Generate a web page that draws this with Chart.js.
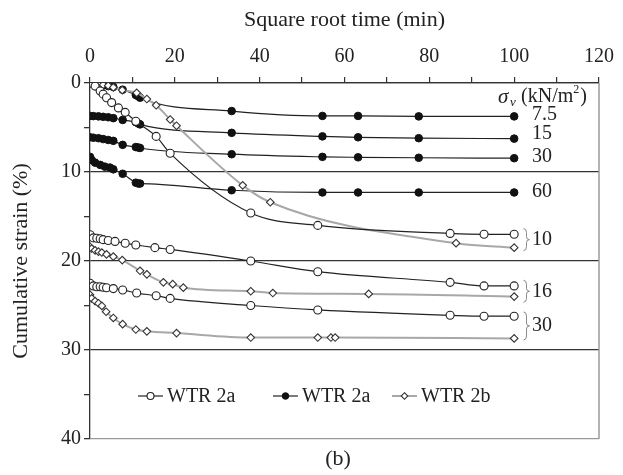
<!DOCTYPE html>
<html>
<head>
<meta charset="utf-8">
<script src="https://cdn.jsdelivr.net/npm/chart.js@4"></script>
<style>
  body { margin: 0; background: #fff; }
</style>
</head>
<body>
<canvas id="strainChart" width="623" height="475"></canvas>
<script>
// WTR 2a, filled circles (7.5, 15, 30, 60 kN/m2)
const s75X = [0, 1, 2, 3.1, 4.3, 5.5, 7.7, 10.8, 11.4, 11.8, 33.4, 54.8, 63.2, 77.5, 100];
const s75Y = [0, 0.1, 0.15, 0.25, 0.35, 0.45, 0.75, 1.35, 1.5, 1.65, 3.15, 3.7, 3.7, 3.75, 3.75];
const s15X = [0, 0.8, 2.0, 3.1, 4.3, 5.5, 7.7, 10.8, 11.4, 11.8, 33.4, 54.8, 63.2, 77.5, 100];
const s15Y = [3.7, 3.72, 3.75, 3.8, 3.85, 3.95, 4.15, 4.4, 4.55, 4.65, 5.6, 6.0, 6.1, 6.2, 6.25];
const s30X = [0, 0.8, 2.0, 3.1, 4.3, 5.5, 7.7, 10.8, 11.4, 11.8, 33.4, 54.8, 63.2, 77.5, 100];
const s30Y = [6.1, 6.15, 6.2, 6.3, 6.4, 6.5, 6.95, 7.2, 7.25, 7.3, 8.0, 8.3, 8.35, 8.4, 8.45];
const s60X = [0, 0.4, 1.2, 2.4, 3.5, 4.7, 5.5, 7.7, 10.8, 11.4, 11.8, 33.4, 54.8, 63.2, 77.5, 100];
const s60Y = [8.3, 8.65, 8.95, 9.2, 9.4, 9.5, 9.7, 10.2, 11.2, 11.3, 11.3, 12.05, 12.3, 12.3, 12.3, 12.3];

// WTR 2a, open circles (10, 16, 30 kN/m2)
const c10X = [0, 1.2, 2.4, 3.1, 3.9, 5.1, 6.7, 8.3, 10.8, 15.6, 18.9, 37.9, 53.7, 84.9, 92.9, 100];
const c10Y = [0, 0.35, 0.9, 1.25, 1.65, 2.2, 2.8, 3.3, 4.3, 6.0, 7.9, 14.6, 16.0, 16.9, 17.0, 17.0];
const c16X = [0, 0.8, 1.6, 2.4, 3.1, 4.3, 5.9, 8.3, 10.8, 15.3, 18.9, 37.9, 53.7, 84.9, 92.9, 100];
const c16Y = [17.05, 17.4, 17.45, 17.5, 17.6, 17.7, 17.8, 18.0, 18.2, 18.5, 18.7, 20.0, 21.2, 22.4, 22.8, 22.8];
const c30X = [0, 0.8, 1.6, 2.4, 3.1, 3.9, 5.5, 7.7, 11.0, 15.6, 18.9, 37.9, 53.7, 84.9, 92.9, 100];
const c30Y = [22.5, 22.8, 22.9, 22.9, 22.95, 23.0, 23.1, 23.25, 23.6, 23.9, 24.2, 25.0, 25.5, 26.1, 26.2, 26.2];

// WTR 2b, diamonds (10, 16, 30 kN/m2)
const d10X = [0, 0.8, 1.6, 2.4, 3.1, 4.3, 5.5, 7.6, 11.0, 13.4, 15.6, 18.9, 20.4, 36.0, 42.5, 86.3, 100];
const d10Y = [0, 0.05, 0.05, 0.1, 0.2, 0.3, 0.5, 0.8, 1.1, 1.8, 2.5, 4.1, 4.8, 11.5, 13.4, 18.0, 18.5];
const d16X = [0, 0.4, 1.2, 2.0, 2.8, 3.9, 5.5, 7.6, 11.8, 13.4, 17.3, 19.5, 22.0, 37.9, 43.1, 65.7, 100];
const d16Y = [18.4, 18.6, 18.8, 18.95, 19.05, 19.25, 19.5, 19.9, 21.1, 21.5, 22.4, 22.6, 23.0, 23.4, 23.6, 23.7, 24.0];
const d30X = [0, 0.4, 1.2, 2.0, 2.8, 3.8, 5.5, 7.7, 10.8, 13.4, 20.4, 37.9, 53.7, 56.8, 57.8, 100];
const d30Y = [23.8, 24.2, 24.5, 24.75, 25.05, 25.7, 26.4, 27.1, 27.7, 27.9, 28.1, 28.6, 28.6, 28.6, 28.6, 28.7];

const legendLabels = ['WTR 2a', 'WTR 2a', 'WTR 2b'];
const filledLabels = ['7.5', '15', '30', '60'];
const filledLabelY = [3.6, 5.7, 8.3, 12.2];
const bracedLabels = ['10', '16', '30'];
const bracedLabelY = [17.6, 23.4, 27.3];

const SERIF = '"Liberation Serif", "Times New Roman", Times, "DejaVu Serif", serif';

const pts = (xs, ys) => xs.map((x, i) => ({ x: x, y: ys[i] }));

const filledStyle = {
    borderColor: '#222', backgroundColor: '#111', borderWidth: 1.2,
    pointStyle: 'circle', pointRadius: 3.8, pointBorderWidth: 1,
    pointBackgroundColor: '#111', pointBorderColor: '#111'
};
const openStyle = {
    borderColor: '#222', backgroundColor: '#fff', borderWidth: 1.2,
    pointStyle: 'circle', pointRadius: 4, pointBorderWidth: 1.1,
    pointBackgroundColor: '#fff', pointBorderColor: '#222'
};
const diamondStyle = {
    borderColor: '#a8a8a8', backgroundColor: '#fff', borderWidth: 2,
    pointStyle: 'rectRot', pointRadius: 3.8, pointBorderWidth: 1.1,
    pointBackgroundColor: '#fff', pointBorderColor: '#333'
};

function series(label, xs, ys, style) {
    return Object.assign({ label: label, data: pts(xs, ys), showLine: true,
        cubicInterpolationMode: 'monotone' }, style);
}

// text and braces at the right, legend inside the plot, "(b)" under it
const extrasPlugin = {
    id: 'extras',
    afterDraw(chart) {
        const ctx = chart.ctx;
        const xs = chart.scales.x, ys = chart.scales.y;
        const area = chart.chartArea;
        ctx.save();
        // right border
        ctx.strokeStyle = '#9a9a9a';
        ctx.lineWidth = 1.5;
        ctx.beginPath();
        ctx.moveTo(area.right, area.top);
        ctx.lineTo(area.right, area.bottom);
        ctx.stroke();

        ctx.fillStyle = '#222';
        ctx.textBaseline = 'middle';
        ctx.textAlign = 'left';
        // sigma_v header
        const hx = xs.getPixelForValue(96.2), hy = ys.getPixelForValue(1.6);
        ctx.font = 'italic 21px ' + SERIF;
        ctx.fillText('\u03C3', hx, hy);
        ctx.font = 'italic 13px ' + SERIF;
        ctx.fillText('v', hx + 12, hy + 5);
        ctx.font = '20px ' + SERIF;
        ctx.fillText('(kN/m', hx + 23, hy);
        const w = ctx.measureText('(kN/m').width;
        ctx.font = '12px ' + SERIF;
        ctx.fillText('2', hx + 23 + w, hy - 7);
        ctx.font = '20px ' + SERIF;
        ctx.fillText(')', hx + 23 + w + 7, hy);

        filledLabels.forEach((t, i) => {
            ctx.fillText(t, xs.getPixelForValue(104.2), ys.getPixelForValue(filledLabelY[i]));
        });
        bracedLabels.forEach((t, i) => {
            const cy = ys.getPixelForValue(bracedLabelY[i]);
            const half = i === 2 ? 14 : 11;
            const bx = xs.getPixelForValue(102.2);
            ctx.strokeStyle = '#888';
            ctx.lineWidth = 1;
            ctx.beginPath();
            ctx.moveTo(bx, cy - half);
            ctx.quadraticCurveTo(bx + 3, cy - half, bx + 3, cy - half + 4);
            ctx.lineTo(bx + 3, cy - 3);
            ctx.quadraticCurveTo(bx + 3, cy, bx + 6, cy);
            ctx.quadraticCurveTo(bx + 3, cy, bx + 3, cy + 3);
            ctx.lineTo(bx + 3, cy + half - 4);
            ctx.quadraticCurveTo(bx + 3, cy + half, bx, cy + half);
            ctx.stroke();
            ctx.fillText(t, xs.getPixelForValue(104.2), cy);
        });

        // legend
        const ly = 396;
        const items = [
            { x: 138, style: openStyle },
            { x: 273, style: filledStyle },
            { x: 392, style: diamondStyle }
        ];
        items.forEach((it, i) => {
            const s = it.style;
            const r = s.pointRadius - 0.5;
            ctx.strokeStyle = s.borderColor;
            ctx.lineWidth = s.borderWidth;
            ctx.beginPath();
            ctx.moveTo(it.x, ly);
            ctx.lineTo(it.x + 25, ly);
            ctx.stroke();
            ctx.fillStyle = s.pointBackgroundColor;
            ctx.strokeStyle = s.pointBorderColor;
            ctx.lineWidth = s.pointBorderWidth;
            ctx.beginPath();
            if (s.pointStyle === 'rectRot') {
                ctx.moveTo(it.x + 12.5, ly - r);
                ctx.lineTo(it.x + 12.5 + r, ly);
                ctx.lineTo(it.x + 12.5, ly + r);
                ctx.lineTo(it.x + 12.5 - r, ly);
                ctx.closePath();
            } else {
                ctx.arc(it.x + 12.5, ly, r, 0, Math.PI * 2);
            }
            ctx.fill();
            ctx.stroke();
            ctx.fillStyle = '#222';
            ctx.font = '20px ' + SERIF;
            ctx.fillText(legendLabels[i], it.x + 29, ly + 1);
        });

        // panel label
        ctx.textAlign = 'center';
        ctx.font = '22px ' + SERIF;
        ctx.fillText('(b)', 338, 459);
        ctx.restore();
    }
};

Chart.defaults.font.family = SERIF;
Chart.defaults.color = '#222';

new Chart(document.getElementById('strainChart'), {
    type: 'scatter',
    data: {
        datasets: [
            series('WTR 2a 10', c10X, c10Y, openStyle),
            series('WTR 2a 16', c16X, c16Y, openStyle),
            series('WTR 2a 30', c30X, c30Y, openStyle),
            series('WTR 2b 10', d10X, d10Y, diamondStyle),
            series('WTR 2b 16', d16X, d16Y, diamondStyle),
            series('WTR 2b 30', d30X, d30Y, diamondStyle),
            series('WTR 2a 7.5', s75X, s75Y, filledStyle),
            series('WTR 2a 15', s15X, s15Y, filledStyle),
            series('WTR 2a 30 ', s30X, s30Y, filledStyle),
            series('WTR 2a 60', s60X, s60Y, filledStyle)
        ]
    },
    options: {
        responsive: false,
        animation: false,
        layout: { padding: { left: 0, top: 0, right: 24, bottom: 36 } },
        plugins: {
            legend: { display: false },
            tooltip: { enabled: false }
        },
        scales: {
            x: {
                type: 'linear',
                position: 'top',
                min: 0,
                max: 120,
                afterFit: s => { s.height = 83; },
                ticks: {
                    stepSize: 10,
                    padding: 8,
                    font: { size: 20 },
                    callback: v => (v % 20 === 0 ? v : '')
                },
                grid: { drawOnChartArea: false, tickLength: 6, color: '#333', lineWidth: 1.2 },
                border: { color: '#333', width: 1.3 },
                title: {
                    display: true,
                    text: 'Square root time (min)',
                    font: { size: 22 },
                    padding: { top: 7, bottom: 0 }
                }
            },
            y: {
                type: 'linear',
                reverse: true,
                min: 0,
                max: 40,
                afterFit: s => { s.width = 90; },
                ticks: {
                    stepSize: 5,
                    padding: 3,
                    font: { size: 20 },
                    callback: v => (v % 10 === 0 ? v : '')
                },
                grid: {
                    tickLength: 6,
                    lineWidth: 1.3,
                    tickColor: '#333',
                    color: ctx => {
                        const v = ctx.tick ? ctx.tick.value : 0;
                        if (v === 40) return '#9a9a9a';
                        return v % 10 === 0 ? '#333' : 'rgba(0,0,0,0)';
                    }
                },
                border: { color: '#333', width: 1.3 },
                title: {
                    display: true,
                    text: 'Cumulative strain (%)',
                    font: { size: 22 },
                    padding: { top: 8, bottom: 0 }
                }
            }
        }
    },
    plugins: [extrasPlugin]
});
</script>
</body>
</html>
